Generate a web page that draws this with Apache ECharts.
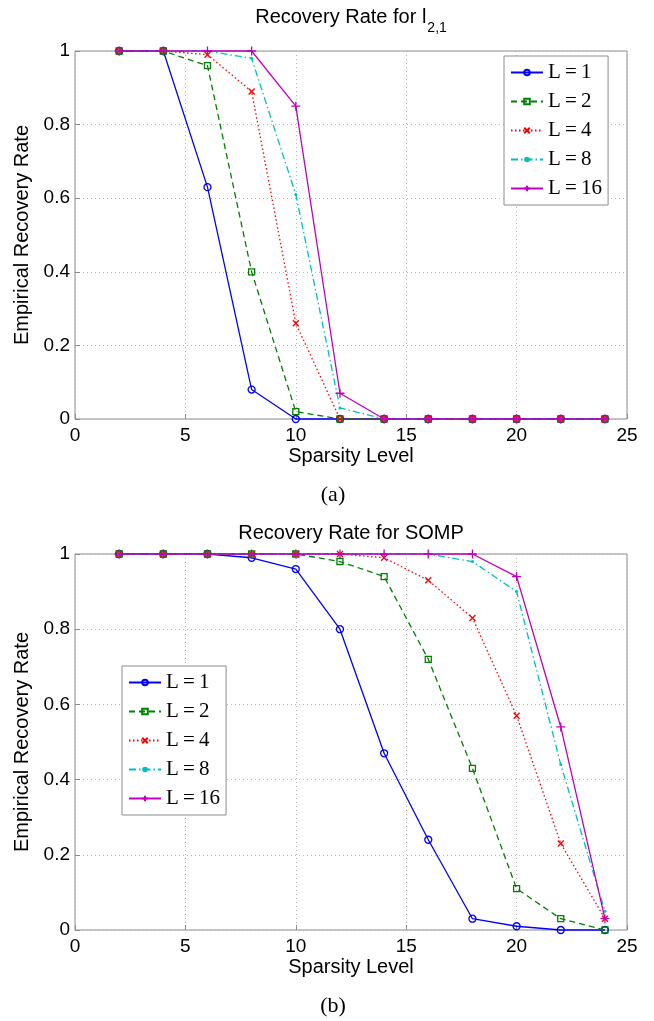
<!DOCTYPE html>
<html>
<head>
<meta charset="utf-8">
<script src="https://cdn.jsdelivr.net/npm/echarts@6/dist/echarts.min.js"></script>
<style>
html,body{margin:0;padding:0;background:#fff;}
#chart{width:654px;height:1021px;}
</style>
</head>
<body>
<div id="chart"></div>
<script>
// ---- data ----
const sparsity = [2, 4, 6, 8, 10, 12, 14, 16, 18, 20, 22, 24];
const seriesNames = ['L=1', 'L=2', 'L=4', 'L=8', 'L=16'];

// Recovery rate for l_{2,1}
const l21_L1  = [1, 1, 0.63, 0.08, 0, 0, 0, 0, 0, 0, 0, 0];
const l21_L2  = [1, 1, 0.96, 0.40, 0.02, 0, 0, 0, 0, 0, 0, 0];
const l21_L4  = [1, 1, 0.99, 0.89, 0.26, 0, 0, 0, 0, 0, 0, 0];
const l21_L8  = [1, 1, 1, 0.98, 0.61, 0.03, 0, 0, 0, 0, 0, 0];
const l21_L16 = [1, 1, 1, 1, 0.85, 0.07, 0, 0, 0, 0, 0, 0];

// Recovery rate for SOMP
const somp_L1  = [1, 1, 1, 0.99, 0.96, 0.80, 0.47, 0.24, 0.03, 0.01, 0, 0];
const somp_L2  = [1, 1, 1, 1, 1, 0.98, 0.94, 0.72, 0.43, 0.11, 0.03, 0];
const somp_L4  = [1, 1, 1, 1, 1, 1, 0.99, 0.93, 0.83, 0.57, 0.23, 0.03];
const somp_L8  = [1, 1, 1, 1, 1, 1, 1, 1, 0.98, 0.90, 0.44, 0.05];
const somp_L16 = [1, 1, 1, 1, 1, 1, 1, 1, 1, 0.94, 0.54, 0.03];

const titleTop = 'Recovery Rate for l';
const titleTopSub = '2,1';
const titleBottom = 'Recovery Rate for SOMP';
const xName = 'Sparsity Level';
const yName = 'Empirical Recovery Rate';
const captions = ['(a)', '(b)'];

// ---- styles ----
const styles = [
  {color: '#0000ff', type: 'solid', symbol: 'circle', size: 7, hollow: true},
  {color: '#008000', type: [6, 4], symbol: 'rect', size: 6, hollow: true},
  {color: '#ff0000', type: [1.5, 2.5], symbol: 'path://M0 0L10 10M10 0L0 10', size: 6, hollow: true},
  {color: '#00bfbf', type: [7, 3, 1.5, 3], symbol: 'circle', size: 3, hollow: false},
  {color: '#bf00bf', type: 'solid', symbol: 'path://M5 0L5 10M0 5L10 5', size: 9, hollow: true}
];

const groups = [
  [l21_L1, l21_L2, l21_L4, l21_L8, l21_L16],
  [somp_L1, somp_L2, somp_L4, somp_L8, somp_L16]
];

const series = [];
groups.forEach((grp, g) => {
  grp.forEach((vals, i) => {
    const s = styles[i];
    series.push({
      type: 'line',
      name: seriesNames[i],
      xAxisIndex: g,
      yAxisIndex: g,
      data: sparsity.map((x, j) => [x, vals[j]]),
      symbol: s.symbol,
      symbolSize: s.size,
      showSymbol: true,
      clip: false,
      lineStyle: {color: s.color, width: 1.3, type: s.type},
      itemStyle: s.hollow
        ? {color: 'rgba(255,255,255,0)', borderColor: s.color, borderWidth: 1.3}
        : {color: s.color, borderColor: s.color, borderWidth: 0},
      emphasis: {disabled: true},
      z: 2 + i
    });
  });
});

const font = 'Liberation Sans, Arial, sans-serif';
const gridBase = {show: true, borderColor: '#8c8c8c', borderWidth: 1, backgroundColor: 'rgba(0,0,0,0)', left: 75, right: 27};

function xAxis(g) {
  return {
    type: 'value', gridIndex: g, min: 0, max: 25, interval: 5,
    name: xName, nameLocation: 'middle', nameGap: 27,
    nameTextStyle: {fontFamily: font, fontSize: 20, color: '#000'},
    axisLine: {show: false},
    axisTick: {show: true, inside: true, length: 5, lineStyle: {color: '#8c8c8c'}},
    axisLabel: {fontFamily: font, fontSize: 19, color: '#000', margin: 7},
    splitLine: {show: true, lineStyle: {color: '#b5b5b5', type: [1, 3], width: 1}}
  };
}
function yAxis(g) {
  return {
    type: 'value', gridIndex: g, min: 0, max: 1, interval: 0.2,
    name: yName, nameLocation: 'middle', nameGap: 38, nameRotate: 90,
    nameTextStyle: {fontFamily: font, fontSize: 20, color: '#000'},
    axisLine: {show: false},
    axisTick: {show: true, inside: true, length: 5, lineStyle: {color: '#8c8c8c'}},
    axisLabel: {fontFamily: font, fontSize: 19, color: '#000', margin: 5},
    splitLine: {show: true, lineStyle: {color: '#b5b5b5', type: [1, 3], width: 1}}
  };
}

function legend(left, top) {
  return {
    data: seriesNames,
    orient: 'vertical',
    left: left, top: top,
    padding: [6, 6, 6, 6],
    itemWidth: 32, itemHeight: 7, itemGap: 8,
    borderColor: '#8c8c8c', borderWidth: 1, borderRadius: 0,
    backgroundColor: '#fff',
    selectedMode: false,
    formatter: n => n.replace('=', '\u2009=\u2009'),
    textStyle: {fontFamily: 'Liberation Serif, Times New Roman, serif', fontSize: 21, lineHeight: 21, color: '#000'}
  };
}

const chart = echarts.init(document.getElementById('chart'), null, {renderer: 'canvas'});
chart.setOption({
  animation: false,
  backgroundColor: '#fff',
  grid: [
    Object.assign({}, gridBase, {top: 51, height: 368}),
    Object.assign({}, gridBase, {top: 554, height: 376})
  ],
  xAxis: [xAxis(0), xAxis(1)],
  yAxis: [yAxis(0), yAxis(1)],
  legend: [legend(504, 56), legend(122, 666)],
  graphic: [
    {type: 'text', x: 351, y: 7, silent: true, style: {
      text: '{a|' + titleTop + '}{s|' + titleTopSub + '}',
      align: 'center', verticalAlign: 'top',
      rich: {
        a: {fontFamily: font, fontSize: 20, lineHeight: 20, verticalAlign: 'top', fill: '#000'},
        s: {fontFamily: font, fontSize: 14, lineHeight: 14, verticalAlign: 'top', padding: [14, 0, 0, 1], fill: '#000'}
      }
    }},
    {type: 'text', x: 351, y: 533, silent: true, style: {
      text: titleBottom, align: 'center', verticalAlign: 'middle',
      font: '20px ' + font, fill: '#000'
    }},
    {type: 'text', x: 333, y: 495, silent: true, style: {
      text: captions[0], align: 'center', verticalAlign: 'middle',
      font: '22px Liberation Serif, Times New Roman, serif', fill: '#000'
    }},
    {type: 'text', x: 333, y: 1006, silent: true, style: {
      text: captions[1], align: 'center', verticalAlign: 'middle',
      font: '22px Liberation Serif, Times New Roman, serif', fill: '#000'
    }}
  ],
  series: series
});
</script>
</body>
</html>
